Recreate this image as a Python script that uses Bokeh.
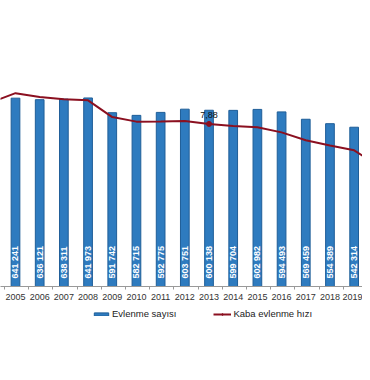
import math
from bokeh.plotting import figure
from bokeh.layouts import column
from bokeh.models import ColumnDataSource, Range1d, FixedTicker, Legend, LegendItem
from bokeh.core.properties import value
from bokeh.embed import file_html
from bokeh.resources import INLINE

# ---- data ----
years = [2005, 2006, 2007, 2008, 2009, 2010, 2011, 2012,
         2013, 2014, 2015, 2016, 2017, 2018, 2019]
marriages = [641241, 636121, 638311, 641973, 591742, 582715, 592775, 603751,
             600138, 599704, 602982, 594493, 569459, 554389, 542314]
rate_years = [2004, 2005, 2006, 2007, 2008, 2009, 2010, 2011, 2012,
              2013, 2014, 2015, 2016, 2017, 2018, 2019, 2020]
rates = [8.93, 9.37, 9.18, 9.08, 9.02, 8.21, 7.99, 8.00, 8.02,
         7.88, 7.78, 7.72, 7.47, 7.09, 6.83, 6.60, 5.85]
labelled_year = 2013
bar_name = "Evlenme sayısı"
line_name = "Kaba evlenme hızı"

bar_labels = [f"{v:,}".replace(",", " ") for v in marriages]
src = ColumnDataSource(dict(year=years, n=marriages, lab=bar_labels,
                            zero=[0] * len(years)))
rsrc = ColumnDataSource(dict(year=rate_years, rate=rates))
i = rate_years.index(labelled_year)
lab_src = ColumnDataSource(dict(year=[rate_years[i]], rate=[rates[i]],
                                lab=[f"{rates[i]:.2f}".replace(".", ",")]))

FONT = "Liberation Sans"
BLUE = "#2E7BBF"
BLUE_EDGE = "#1F5E98"
RED = "#8B1020"

p = figure(width=362, height=306, output_backend="svg", toolbar_location=None,
           x_range=Range1d(2004.38, 2019.345), y_range=Range1d(0, 973800),
           min_border_left=0, min_border_right=0, min_border_top=0,
           min_border_bottom=20)
p.extra_y_ranges = {"rate": Range1d(0, 13.86)}
p.outline_line_color = None
p.xgrid.grid_line_color = None
p.ygrid.grid_line_color = None
p.yaxis.visible = False

p.vbar(x="year", top="n", width=0.36, source=src,
       fill_color=BLUE, line_color=BLUE_EDGE, line_width=1)
p.text(x="year", y="zero", text="lab", source=src, angle=math.pi / 2,
       text_align="left", text_baseline="middle", y_offset=-8,
       text_color="white", text_font=value(FONT), text_font_size="9px",
       text_font_style="bold")

p.line(x="year", y="rate", source=rsrc, y_range_name="rate",
       line_color=RED, line_width=2)
p.scatter(x="year", y="rate", source=lab_src, y_range_name="rate",
          marker="circle", size=5, fill_color=RED, line_color=RED)
p.text(x="year", y="rate", text="lab", source=lab_src, y_range_name="rate",
       text_align="center", text_baseline="middle", y_offset=-9,
       text_color="#111111", text_font=value(FONT), text_font_size="9px")

ax = p.xaxis[0]
ax.ticker = FixedTicker(ticks=years,
                        minor_ticks=[y - 0.45 for y in years] + [years[-1] + 0.55])
ax.axis_line_color = "#999999"
ax.major_tick_line_color = None
ax.major_tick_out = 0
ax.major_tick_in = 0
ax.minor_tick_line_color = "#999999"
ax.minor_tick_out = 3
ax.minor_tick_in = 0
ax.major_label_standoff = 4
ax.major_label_text_font = FONT
ax.major_label_text_font_size = "9px"
ax.major_label_text_color = "#333333"

# ---- legend strip (its renderers reuse the data, kept outside its view) ----
lg = figure(width=362, height=58, output_backend="svg", toolbar_location=None,
            x_range=Range1d(0, 1), y_range=Range1d(0, 1),
            min_border_left=0, min_border_right=0, min_border_top=0,
            min_border_bottom=0)
lg.outline_line_color = None
lg.xgrid.grid_line_color = None
lg.ygrid.grid_line_color = None
lg.xaxis.visible = False
lg.yaxis.visible = False
b_r = lg.vbar(x="year", top="n", width=0.36, source=src,
              fill_color=BLUE, line_color=BLUE_EDGE, line_width=1)
l_r = lg.line(x="year", y="rate", source=rsrc, line_color=RED, line_width=2)
m_r = lg.scatter(x="year", y="rate", source=lab_src, marker="circle", size=5,
                 fill_color=RED, line_color=RED)
legend = Legend(items=[LegendItem(label=bar_name, renderers=[b_r]),
                       LegendItem(label=line_name, renderers=[l_r, m_r])],
                location=(92, 45), orientation="horizontal",
                border_line_color=None, background_fill_alpha=0,
                padding=0, margin=0, spacing=37, glyph_width=18, glyph_height=4,
                label_standoff=2, label_text_font=FONT, label_text_font_size="9.5px",
                label_text_color="#222222", label_height=11)
lg.add_layout(legend, "center")

layout = column(p, lg, spacing=0)
open("out.html", "w").write(file_html(layout, INLINE))
